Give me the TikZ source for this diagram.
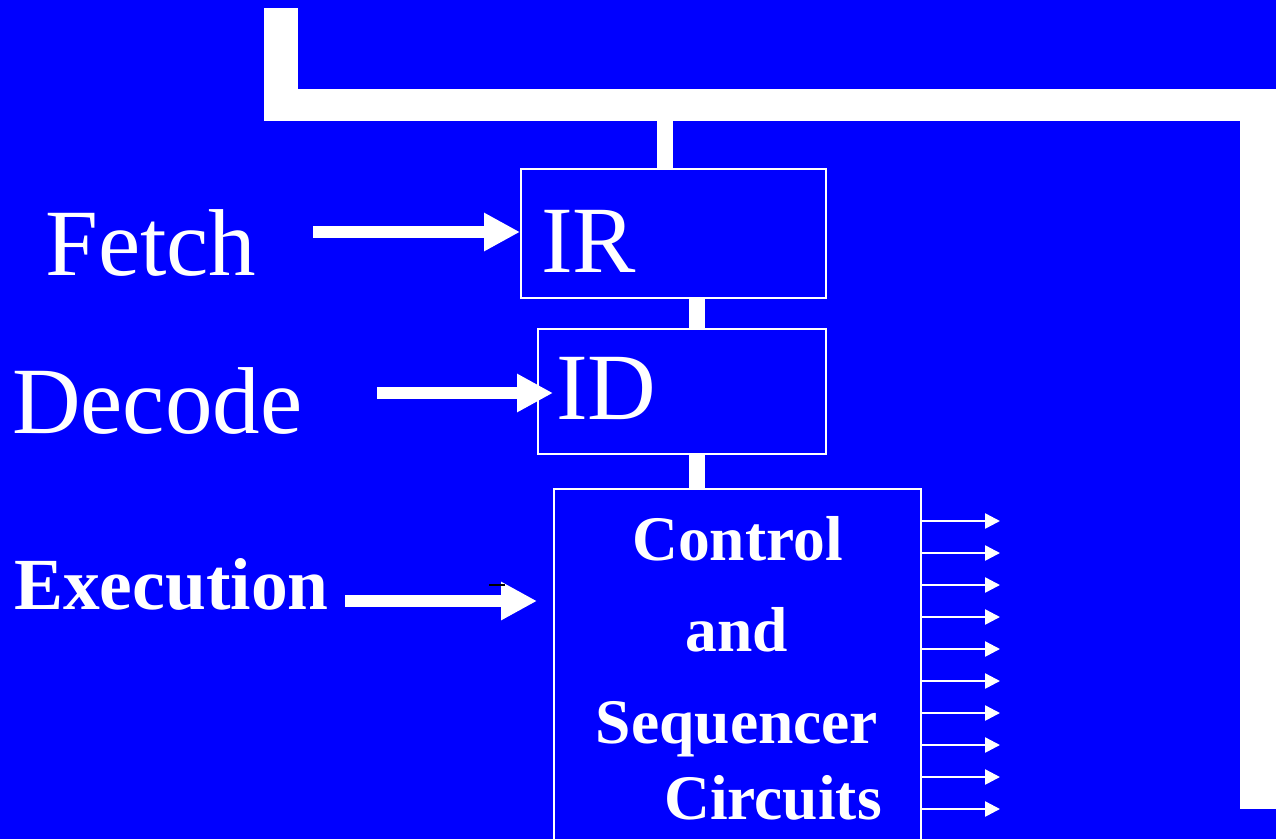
\documentclass[tikz,border=0pt]{standalone}
\usepackage{fontspec}
\setmainfont{Liberation Serif}
\usetikzlibrary{arrows.meta,calc}
\definecolor{bgblue}{RGB}{0,0,255}
\tikzset{
  box/.style={draw=white, line width=2pt, inner sep=0pt, anchor=north west},
  bar/.style={fill=white, draw=none},
  conn/.style={draw=white, line width=16pt},
  bigarrow/.style={draw=white, line width=12pt, -{Triangle[length=36pt,width=36pt]}, white},
  smallarrow/.style={draw=white, line width=2.5pt, -{Triangle[length=15pt,width=15pt]}, white},
  big/.style={text=white, inner sep=0pt, anchor=base west, font=\fontsize{95}{95}\selectfont},
  bold/.style={text=white, inner sep=0pt, anchor=base, font=\fontsize{63.5}{63.5}\selectfont\bfseries},
}
\begin{document}
\begin{tikzpicture}[x=1pt,y=-1pt]
\useasboundingbox (0,0) rectangle (1276,839);
\clip (0,0) rectangle (1276,839);
\fill[bgblue] (0,0) rectangle (1276,839);
% frame bars
\fill[bar] (264,8) rectangle (298,121);
\fill[bar] (264,88.5) rectangle (1276,121);
\fill[bar] (1240,88.5) rectangle (1276,809);
% boxes
\node[box, minimum width=305pt, minimum height=129pt] (IR) at (520,168) {};
\node[box, minimum width=288pt, minimum height=125pt] (ID) at (537,328) {};
\node[box, minimum width=367pt, minimum height=400pt] (CS) at (553,488) {};
% box texts
\node[big] (IRt) at (541,272) {IR};
\node[big] (IDt) at (556,419) {ID};
\node[bold] (c1) at (737.5,560) {Control};
\node[bold] (c2) at (737,651) {and};
\node[bold] (c3) at (737,743) {Sequencer};
\node[bold] (c4) at (773,819) {Circuits};
% stage labels
\node[big] (fetch) at (45,275) {Fetch};
\node[big] (decode) at (12,433) {Decode};
\node[text=white, inner sep=0pt, anchor=base west, font=\fontsize{73.5}{73.5}\selectfont\bfseries] (exec) at (14,609) {Execution};
% vertical connectors
\coordinate (busx) at (665,0);
\coordinate (midx) at (697,0);
\draw[conn] (IR.north -| busx) -- ++(0,-48);
\draw[conn] (IR.south -| midx) -- (ID.north -| midx);
\draw[conn] (ID.south -| midx) -- (CS.north -| midx);
% stage arrows
\coordinate (fs) at (313,232);
\coordinate (ds) at (377,393);
\coordinate (dt) at (553,393);
\coordinate (es) at (345,601);
\coordinate (et) at (537,601);
\draw[bigarrow] (fs) -- (fs -| IR.west);
\draw[bigarrow] (ds) -- (dt);
\draw[bigarrow] (es) -- (et);
\coordinate (m1) at (489,585);
\coordinate (m2) at (505,585);
\draw[black, line width=1.5pt] (m1) -- (m2);
% control output arrows
\foreach \y in {521,553,585,617,649,681,713,745,777,809}{
  \coordinate (o\y) at (1000,\y);
  \draw[smallarrow] (CS.east |- o\y) -- (o\y);
}
\end{tikzpicture}
\end{document}
